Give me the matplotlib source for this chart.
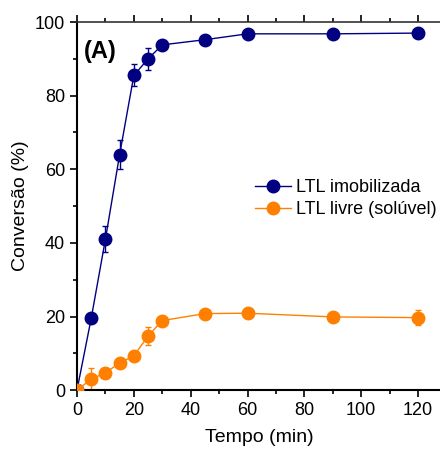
import matplotlib
matplotlib.use("Agg")
import matplotlib.pyplot as plt
from matplotlib.ticker import MultipleLocator

plt.rcParams['font.family'] = ['Liberation Sans', 'DejaVu Sans']

tempo = [0, 5, 10, 15, 20, 25, 30, 45, 60, 90, 120]
imob = [0, 19.5, 41, 64, 85.5, 90, 93.8, 95.2, 96.8, 96.8, 97.0]
imob_err = [0, 0.8, 3.5, 4.0, 3.0, 3.0, 1.0, 0.8, 0.5, 0.5, 0.5]
livre = [0, 3.0, 4.7, 7.4, 9.3, 14.7, 18.9, 20.8, 20.9, 19.9, 19.7]
livre_err = [0, 3.0, 0.5, 0.5, 0.5, 2.5, 0.6, 0.5, 0.5, 0.5, 2.0]

c_imob = '#000080'
c_livre = '#FF8000'

fig = plt.figure(figsize=(4.4, 4.5), dpi=100)
ax = fig.add_axes([0.175, 0.133, 0.83, 0.818])

ax.errorbar(tempo, imob, yerr=imob_err, color=c_imob, fmt='none',
            capsize=2.5, elinewidth=1, zorder=2)
ax.errorbar(tempo, livre, yerr=livre_err, color=c_livre, fmt='none',
            capsize=2.5, elinewidth=1, zorder=2)
ax.plot(tempo, imob, color=c_imob, marker='o', markersize=9, lw=1,
        label='LTL imobilizada', zorder=3)
ax.plot(tempo, livre, color=c_livre, marker='o', markersize=9, lw=1,
        label='LTL livre (solúvel)', zorder=3)

ax.set_xlim(0, 128.5)
ax.set_ylim(0, 100)
ax.xaxis.set_major_locator(MultipleLocator(20))
ax.xaxis.set_minor_locator(MultipleLocator(10))
ax.yaxis.set_major_locator(MultipleLocator(20))
ax.yaxis.set_minor_locator(MultipleLocator(10))
ax.tick_params(axis='both', which='major', labelsize=13, direction='out', length=5, width=1.2)
ax.tick_params(axis='both', which='minor', direction='out', length=3, width=1.2)
ax.tick_params(axis='x', which='both', top=True)
ax.spines['right'].set_visible(False)
for s in ['left', 'bottom']:
    ax.spines[s].set_linewidth(1.5)
ax.spines['top'].set_linewidth(1.2)
ax.spines['top'].set_color('#333333')

ax.set_xlabel('Tempo (min)', fontsize=14, labelpad=7)
ax.set_ylabel('Conversão (%)', fontsize=14, labelpad=4)
ax.text(0.02, 0.95, '(A)', transform=ax.transAxes, fontsize=17, fontweight='bold', va='top')

ax.legend(loc='center right', bbox_to_anchor=(1.02, 0.52), frameon=False, fontsize=13,
          handlelength=2.0, handletextpad=0.3, borderpad=0.2, labelspacing=0.25)

fig.savefig('out.png', dpi=100)
